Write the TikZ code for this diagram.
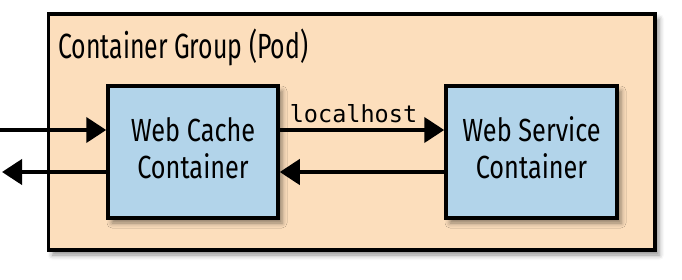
\documentclass[tikz,border=0pt]{standalone}
\usepackage{fontspec}
\setmainfont{Fira Sans}[FakeStretch=0.79]
\newfontfamily\titlefont{Fira Sans}[FakeStretch=0.71]
\setmonofont{DejaVu Sans Mono}
\usetikzlibrary{arrows.meta,shadows.blur}
\definecolor{peach}{RGB}{252,222,188}
\definecolor{lblue}{RGB}{178,212,234}
\newcommand{\dstrut}{\rule[-8pt]{0pt}{0pt}}
\tikzset{
  podbox/.style={draw=black, line width=3.5pt, fill=peach, inner sep=0pt,
    blur shadow={shadow xshift=4pt, shadow yshift=-5pt, shadow blur radius=5pt, shadow opacity=45}},
  ctbox/.style={draw=black, line width=3.5pt, fill=lblue, inner sep=0pt, align=center,
    font=\fontsize{32}{37}\selectfont,
    blur shadow={shadow xshift=4pt, shadow yshift=-5pt, shadow blur radius=5pt, shadow opacity=45}},
  arr/.style={line width=4pt, -{Triangle[length=20pt,width=25pt]}},
}
\begin{document}
\begin{tikzpicture}[x=1pt,y=-1pt]
\useasboundingbox (0,0) rectangle (682,279);
\node[podbox, minimum width=606.5pt, minimum height=236pt] (pod) at (351.75,132) {};
\node[anchor=base west, inner sep=0pt, font=\titlefont\fontsize{35}{40}\selectfont] (title) at (58,58) {Container Group (Pod)};
\node[ctbox, minimum width=170pt, minimum height=132pt] (cache) at (193,152) {Web Cache\\Container\dstrut};
\node[ctbox, minimum width=171pt, minimum height=132pt] (service) at (531.5,152) {Web Service\\Container\dstrut};
\coordinate (inL) at (0,130);
\coordinate (outL) at (2,172);
\draw[arr] (inL) -- (inL -| cache.west);
\draw[arr] (cache.west |- outL) -- (outL);
\draw[arr] (cache.east |- inL) -- (service.west |- inL);
\draw[arr] (service.west |- outL) -- (cache.east |- outL);
\node[anchor=base, inner sep=0pt, font=\ttfamily\fontsize{23.5}{28}\selectfont] (lh) at (353.5,122) {localhost};
\end{tikzpicture}
\end{document}
